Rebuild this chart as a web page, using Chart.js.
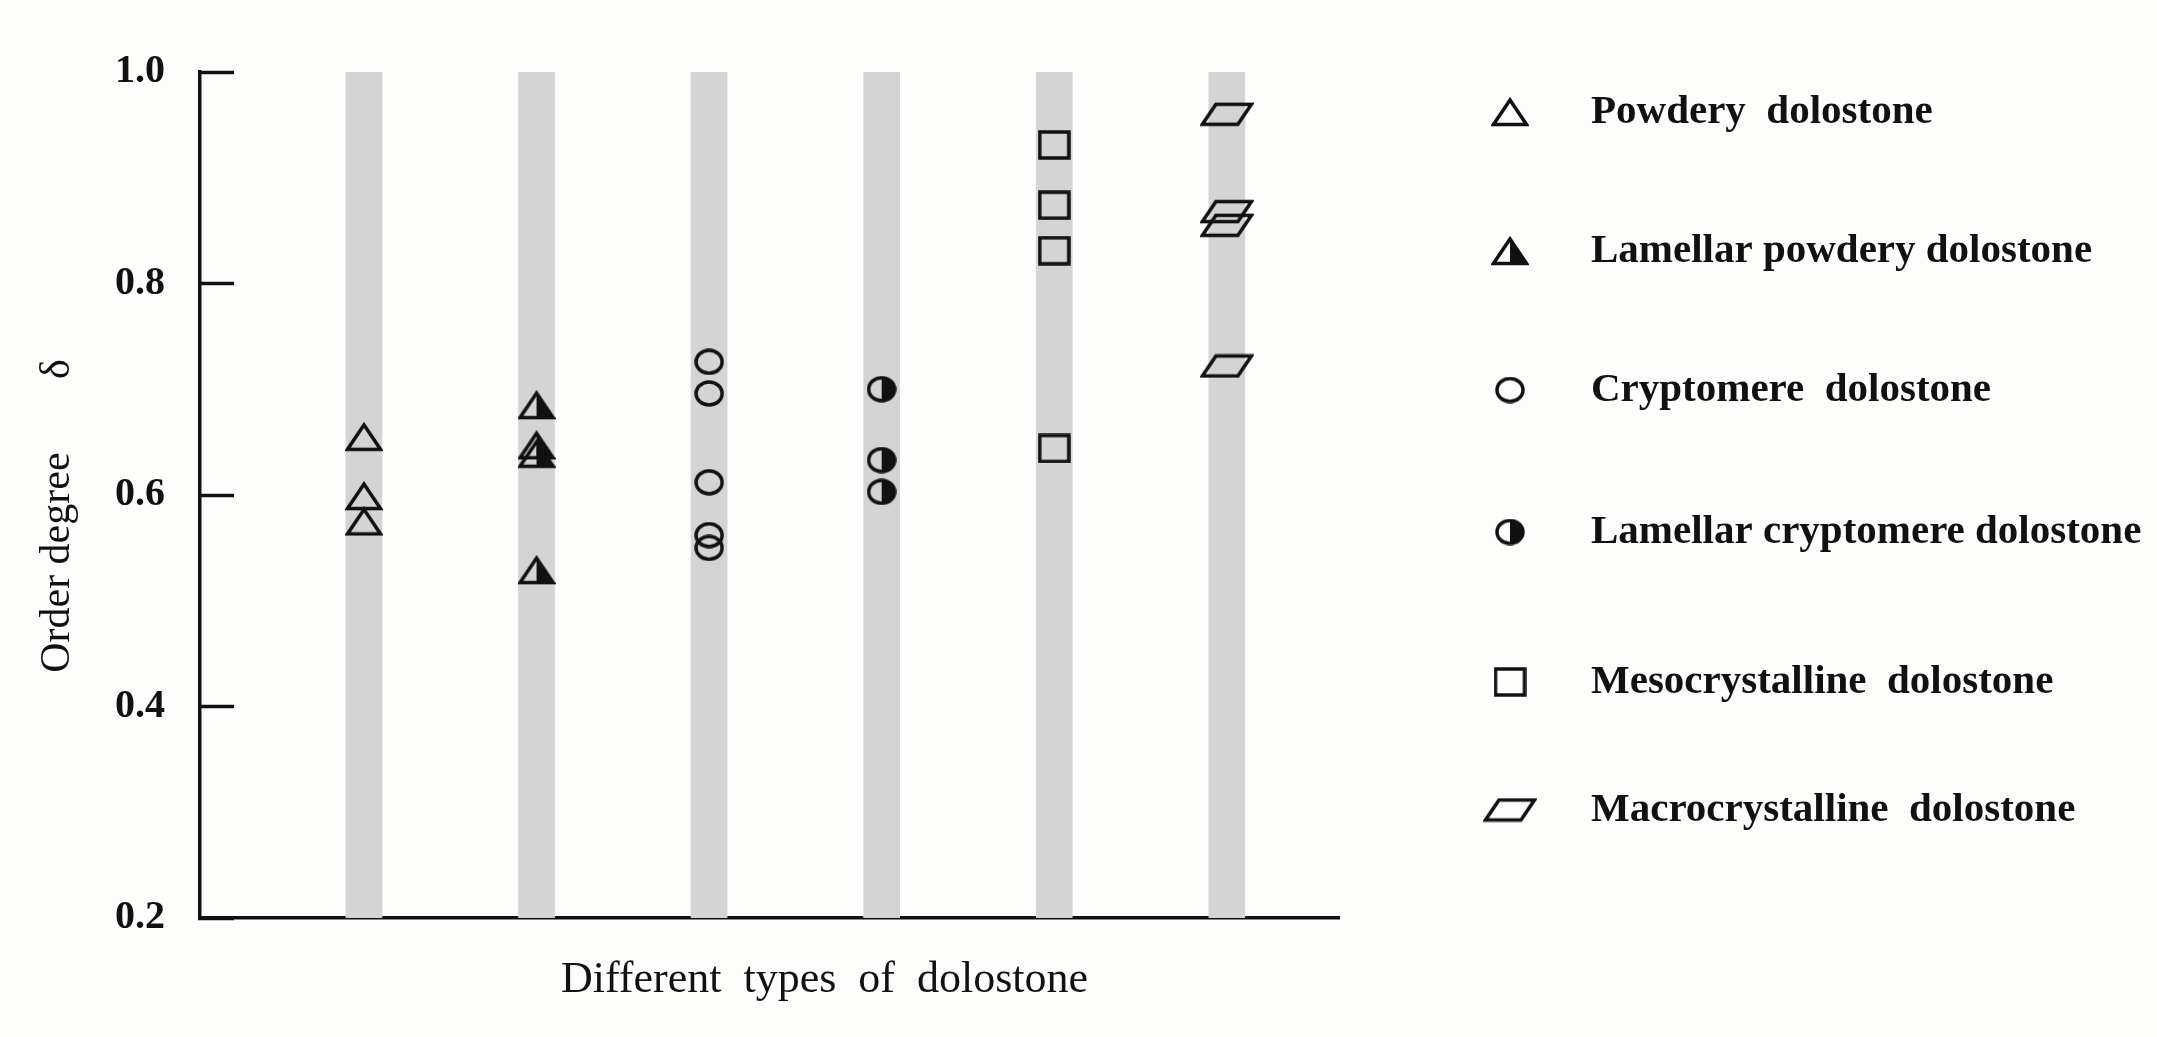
<!DOCTYPE html>
<html>
<head>
<meta charset="utf-8">
<script src="https://cdn.jsdelivr.net/npm/chart.js@4.4.1/dist/chart.umd.min.js"></script>
<style>
  html, body { margin: 0; padding: 0; background: #fdfdfc; }
  #wrap { width: 2157px; height: 1037px; }
</style>
</head>
<body>
<div id="wrap"><canvas id="chart"></canvas></div>
<script>
// categories, as written in the legend
const categories = [
    'Powdery  dolostone',
    'Lamellar powdery dolostone',
    'Cryptomere  dolostone',
    'Lamellar cryptomere dolostone',
    'Mesocrystalline  dolostone',
    'Macrocrystalline  dolostone'
];

// order degree values
const powdery = [0.655, 0.599, 0.575];
const lamellarPowdery = [0.685, 0.647, 0.639, 0.529];
const cryptomere = [0.726, 0.696, 0.612, 0.562, 0.550];
const lamellarCryptomere = [0.700, 0.633, 0.603];
const mesocrystalline = [0.931, 0.874, 0.831, 0.644];
const macrocrystalline = [0.960, 0.868, 0.855, 0.722];

const yTicks = [0.2, 0.4, 0.6, 0.8, 1.0];
const bandRange = [0.2, 1.0];

const series = [powdery, lamellarPowdery, cryptomere, lamellarCryptomere, mesocrystalline, macrocrystalline];

// legend layout
const legendRowY = [112, 251, 390, 532, 682, 810];
const legendMarkerX = 1510;
const legendTextX = 1591;

const INK = '#111';
Chart.defaults.font.family = '"Liberation Serif", "Times New Roman", serif';
Chart.defaults.color = INK;

function marker(w, h, draw) {
    const c = document.createElement('canvas');
    c.width = w; c.height = h;
    const g = c.getContext('2d');
    g.lineWidth = 3.5;
    g.strokeStyle = INK;
    g.fillStyle = INK;
    g.lineJoin = 'miter';
    draw(g, w, h);
    return c;
}

function triPath(g, w, h) {
    g.beginPath();
    g.moveTo(w / 2, 3);
    g.lineTo(w - 2.5, h - 2.5);
    g.lineTo(2.5, h - 2.5);
    g.closePath();
}

const markers = [
    marker(38, 30, (g, w, h) => { triPath(g, w, h); g.stroke(); }),
    marker(38, 30, (g, w, h) => {
        triPath(g, w, h); g.stroke();
        g.beginPath(); g.moveTo(w / 2, 3); g.lineTo(w - 2.5, h - 2.5); g.lineTo(w / 2, h - 2.5); g.closePath(); g.fill();
    }),
    marker(30, 27, (g, w, h) => {
        g.beginPath(); g.ellipse(w / 2, h / 2, w / 2 - 2, h / 2 - 2, 0, 0, Math.PI * 2); g.stroke();
    }),
    marker(30, 27, (g, w, h) => {
        g.beginPath(); g.ellipse(w / 2, h / 2, w / 2 - 2, h / 2 - 2, 0, 0, Math.PI * 2); g.stroke();
        g.beginPath(); g.ellipse(w / 2, h / 2, w / 2 - 2, h / 2 - 2, 0, -Math.PI / 2, Math.PI / 2); g.closePath(); g.fill();
    }),
    marker(33, 30, (g, w, h) => { g.strokeRect(2, 2, w - 4, h - 4); }),
    marker(54, 25, (g, w, h) => {
        g.beginPath(); g.moveTo(16, 2.5); g.lineTo(w - 2.5, 2.5); g.lineTo(w - 16, h - 2.5); g.lineTo(2.5, h - 2.5); g.closePath(); g.stroke();
    })
];

const datasets = series.map((vals, i) => ({
    type: 'scatter',
    label: categories[i],
    data: vals.map(v => ({ x: i + 1, y: v })),
    pointStyle: markers[i],
    pointRadius: 14,
    order: 0
}));

datasets.push({
    type: 'bar',
    label: 'band',
    data: categories.map((c, i) => ({ x: i + 1, y: bandRange })),
    backgroundColor: '#d4d4d4',
    barThickness: 36,
    order: 10
});

const sideLegend = {
    id: 'sideLegend',
    afterDraw(chart) {
        const ctx = chart.ctx;
        ctx.save();
        ctx.font = 'bold 41px "Liberation Serif", "Times New Roman", serif';
        ctx.fillStyle = INK;
        ctx.textBaseline = 'middle';
        categories.forEach((name, i) => {
            const m = markers[i];
            const y = legendRowY[i];
            ctx.drawImage(m, legendMarkerX - m.width / 2, y - m.height / 2);
            ctx.fillText(name, legendTextX, y);
        });
        ctx.restore();
    }
};

new Chart(document.getElementById('chart'), {
    type: 'scatter',
    data: { datasets },
    plugins: [sideLegend],
    options: {
        responsive: true,
        maintainAspectRatio: false,
        animation: false,
        layout: { padding: { left: 20, top: 72, right: 818, bottom: 20 } },
        plugins: {
            legend: { display: false },
            tooltip: { enabled: false }
        },
        scales: {
            x: {
                type: 'linear',
                min: 0.05,
                max: 6.65,
                offset: false,
                afterFit: s => { s.height = 99; s.paddingLeft = 0; s.paddingRight = 0; },
                ticks: { display: false },
                grid: { display: false, offset: false },
                border: { display: true, color: INK, width: 3.5 },
                title: {
                    display: true,
                    text: '          Different  types  of  dolostone',
                    font: { size: 44 },
                    color: INK,
                    padding: { top: 0, bottom: 10 }
                }
            },
            y: {
                type: 'linear',
                min: 0.2,
                max: 1.0,
                afterFit: s => { s.width = 180; s.paddingTop = 0; s.paddingBottom = 0; },
                afterBuildTicks: s => { s.ticks = yTicks.map(v => ({ value: v })); },
                ticks: {
                    padding: 69,
                    font: { size: 40, weight: 'bold' },
                    color: INK,
                    callback: v => Number(v).toFixed(1)
                },
                grid: {
                    drawOnChartArea: false,
                    drawTicks: true,
                    tickLength: -34,
                    tickWidth: 3.5,
                    tickColor: INK
                },
                border: { display: true, color: INK, width: 3.5 },
                title: {
                    display: true,
                    text: 'Order degree       δ    ',
                    font: { size: 42 },
                    color: INK,
                    padding: { top: 13, bottom: 0 }
                }
            }
        }
    }
});
</script>
</body>
</html>
